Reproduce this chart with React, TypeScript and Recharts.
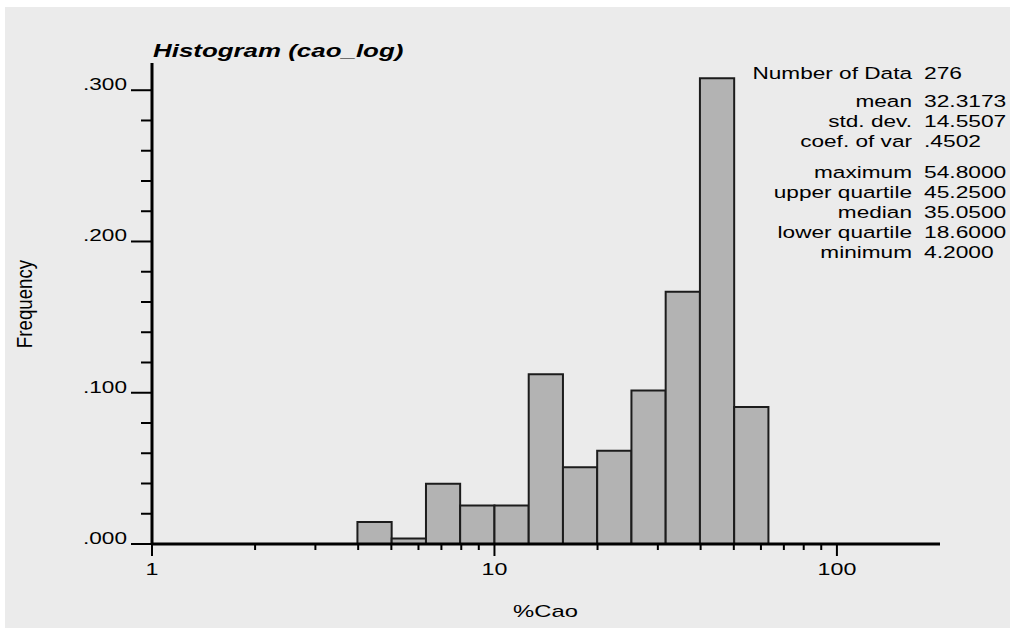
import React from 'react';
import { ComposedChart, Line, XAxis, YAxis, ReferenceArea } from 'recharts';

// histogram bins on a log axis: edges of each class and relative frequency
const binEdges = [3.98, 5.01, 6.31, 7.94, 10, 12.59, 15.85, 19.95, 25.12, 31.62, 39.81, 50.12, 63.1];
const binFreq = [0.0145, 0.0036, 0.0399, 0.0254, 0.0254, 0.1123, 0.0507, 0.0616, 0.1014, 0.1667, 0.308, 0.0906];

const xTicks = [1, 2, 3, 4, 5, 6, 7, 8, 9, 10, 20, 30, 40, 50, 60, 70, 80, 90, 100];
const xDecades = [1, 10, 100];
const yTicks = [0, 0.02, 0.04, 0.06, 0.08, 0.1, 0.12, 0.14, 0.16, 0.18, 0.2, 0.22, 0.24, 0.26, 0.28, 0.3];
const yLabeled = [0, 0.1, 0.2, 0.3];

const statNames = ['Number of Data', 'mean', 'std. dev.', 'coef. of var', 'maximum', 'upper quartile', 'median', 'lower quartile', 'minimum'];
const statValues = ['276', '32.3173', '14.5507', '.4502', '54.8000', '45.2500', '35.0500', '18.6000', '4.2000'];

const FONT = '"Liberation Sans", Arial, Helvetica, sans-serif';
const BG = '#ebebeb';

const histData = binFreq.map((f, i) => ({
  lo: binEdges[i],
  hi: binEdges[i + 1],
  mid: Math.sqrt(binEdges[i] * binEdges[i + 1]),
  freq: f,
}));

const fmtY = (v: number) => v.toFixed(3).replace(/^0/, '');

const YTick = (props: any) => {
  const { x, y, payload } = props;
  const v = payload.value as number;
  const major = yLabeled.some((t) => Math.abs(t - v) < 1e-9);
  return (
    <g>
      <line x1={x - (major ? 21 : 11)} x2={x} y1={y} y2={y} stroke="#000" strokeWidth={2} />
      {major && (
        <g transform={`translate(${x - 25},${y}) scale(1.33,1)`}>
          <text x={0} y={0} textAnchor="end" fontFamily={FONT} fontSize={17} fill="#000">
            {fmtY(v)}
          </text>
        </g>
      )}
    </g>
  );
};

const XTick = (props: any) => {
  const { x, y, payload } = props;
  const v = payload.value as number;
  const major = xDecades.includes(v);
  return (
    <g>
      <line x1={x} x2={x} y1={y} y2={y + (major ? 12 : 6)} stroke="#000" strokeWidth={2} />
      {major && (
        <g transform={`translate(${x},${y + 31}) scale(1.37,1)`}>
          <text x={0} y={0} textAnchor="middle" fontFamily={FONT} fontSize={17} fill="#000">
            {v}
          </text>
        </g>
      )}
    </g>
  );
};

// baseline of each stats row; extra space after the count and after coef. of var
const statRowY = (i: number) => 79 + 20 * i + (i >= 1 ? 7.5 : 0) + (i >= 4 ? 11 : 0);

export default function App() {
  return (
    <div style={{ position: 'absolute', left: 0, top: 0, width: 1010, height: 629, background: '#fff' }}>
      <div style={{ position: 'absolute', left: 5, top: 7, width: 1005, height: 621, background: BG }} />
      <div style={{ position: 'absolute', left: 0, top: 0 }}>
        <ComposedChart
          width={1010}
          height={629}
          data={histData}
          margin={{ top: 63, right: 70, bottom: 45, left: 92 }}
        >
          <XAxis
            dataKey="mid"
            type="number"
            scale="log"
            domain={[1, 200]}
            ticks={xTicks}
            interval={0}
            allowDataOverflow
            height={40}
            tickLine={false}
            tickSize={0}
            tickMargin={0}
            axisLine={{ stroke: '#000', strokeWidth: 3 }}
            tick={<XTick />}
          />
          <YAxis
            type="number"
            domain={[0, 0.318]}
            ticks={yTicks}
            interval={0}
            allowDataOverflow
            width={60}
            tickLine={false}
            tickSize={0}
            tickMargin={0}
            axisLine={{ stroke: '#000', strokeWidth: 3 }}
            tick={<YTick />}
          />
          {histData.map((b, i) => (
            <ReferenceArea
              key={`bin-${i}`}
              x1={b.lo}
              x2={b.hi}
              y1={0}
              y2={b.freq}
              fill="#b3b3b3"
              fillOpacity={1}
              stroke="#1c1c1c"
              strokeWidth={2}
              ifOverflow="visible"
            />
          ))}
          <Line dataKey="freq" stroke="none" dot={false} activeDot={false} isAnimationActive={false} />
        </ComposedChart>
      </div>
      <svg width={1010} height={629} style={{ position: 'absolute', left: 0, top: 0 }}>
        <g transform="translate(153,57) scale(1.4,1)">
          <text x={0} y={0} fontFamily={FONT} fontSize={18.5} fontWeight="bold" fontStyle="italic" fill="#000">
            Histogram (cao_log)
          </text>
        </g>
        {statNames.map((name, i) => (
          <g key={name}>
            <g transform={`translate(912,${statRowY(i)}) scale(1.33,1)`}>
              <text x={0} y={0} textAnchor="end" fontFamily={FONT} fontSize={17} fill="#000">
                {name}
              </text>
            </g>
            <g transform={`translate(924,${statRowY(i)}) scale(1.34,1)`}>
              <text x={0} y={0} fontFamily={FONT} fontSize={17} fill="#000">
                {statValues[i]}
              </text>
            </g>
          </g>
        ))}
        <g transform="translate(32,304) rotate(-90) scale(1.1,1.33)">
          <text x={0} y={0} textAnchor="middle" fontFamily={FONT} fontSize={17} fill="#000">
            Frequency
          </text>
        </g>
        <g transform="translate(545.5,617) scale(1.4,1)">
          <text x={0} y={0} textAnchor="middle" fontFamily={FONT} fontSize={17} fill="#000">
            %Cao
          </text>
        </g>
      </svg>
    </div>
  );
}
